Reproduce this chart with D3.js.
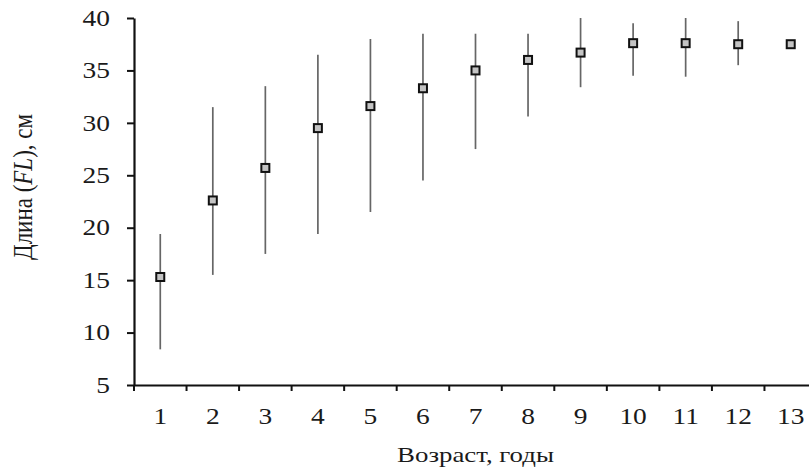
<!DOCTYPE html>
<html>
<head>
<meta charset="utf-8">
<script src="https://cdn.jsdelivr.net/npm/d3@7"></script>
<style>
  body { margin: 0; background: #fff; }
  svg { display: block; font-family: "Liberation Serif", "Times New Roman", serif; }
</style>
</head>
<body>
<div id="chart"></div>
<script>
// age classes, mean fork length, min/max range
const ages = [1, 2, 3, 4, 5, 6, 7, 8, 9, 10, 11, 12, 13];
const meanFL = [15.3, 22.6, 25.7, 29.5, 31.6, 33.3, 35.0, 36.0, 36.7, 37.6, 37.6, 37.5, 37.5];
const minFL = [8.4, 15.5, 17.5, 19.4, 21.5, 24.5, 27.5, 30.6, 33.4, 34.5, 34.4, 35.5, null];
const maxFL = [19.4, 31.5, 33.5, 36.5, 38.0, 38.5, 38.5, 38.5, 40.0, 39.5, 40.0, 39.7, null];
const yTicks = [5, 10, 15, 20, 25, 30, 35, 40];

const width = 809, height = 471;
const margin = {top: 18, right: -8, bottom: 86, left: 134};
const stretch = 1.22; // the source picture is a bit wider than tall

const rows = ages.map((a, i) => ({age: a, mean: meanFL[i], lo: minFL[i], hi: maxFL[i]}));

const svg = d3.select("#chart").append("svg")
  .attr("width", width)
  .attr("height", height);

const x = d3.scaleBand()
  .domain(ages)
  .range([margin.left, width - margin.right])
  .padding(0);

const y = d3.scaleLinear()
  .domain([5, 40])
  .range([height - margin.bottom, margin.top]);

// error bars
svg.append("g")
  .attr("stroke", "#666")
  .attr("stroke-width", 1.7)
  .selectAll("line")
  .data(rows.filter(d => d.lo != null))
  .join("line")
    .attr("x1", d => x(d.age) + x.bandwidth() / 2)
    .attr("x2", d => x(d.age) + x.bandwidth() / 2)
    .attr("y1", d => y(d.lo))
    .attr("y2", d => y(d.hi));

// mean markers
const s = 8;
svg.append("g")
  .selectAll("rect")
  .data(rows)
  .join("rect")
    .attr("x", d => x(d.age) + x.bandwidth() / 2 - s / 2)
    .attr("y", d => y(d.mean) - s / 2)
    .attr("width", s)
    .attr("height", s)
    .attr("fill", "#c4c4c4")
    .attr("stroke", "#111")
    .attr("stroke-width", 2);

// x axis: labels centred, ticks on band boundaries
const xAxis = svg.append("g")
  .attr("transform", `translate(0,${y(5)})`)
  .call(d3.axisBottom(x).tickSize(0).tickPadding(23));
xAxis.select(".domain").attr("stroke", "#111").attr("stroke-width", 2.2);
xAxis.selectAll("text")
  .attr("font-size", 22.5)
  .attr("fill", "#1a1a1a")
  .attr("transform", `scale(${stretch},1)`)
  .style("font-family", "Liberation Serif");

xAxis.selectAll(".bound")
  .data(ages)
  .join("line")
    .attr("class", "bound")
    .attr("x1", d => x(d)).attr("x2", d => x(d))
    .attr("y1", 0).attr("y2", 6)
    .attr("stroke", "#111").attr("stroke-width", 2);

// y axis
const yAxis = svg.append("g")
  .attr("transform", `translate(${margin.left},0)`)
  .call(d3.axisLeft(y).tickValues(yTicks).tickSize(7).tickSizeOuter(0));
yAxis.select(".domain").attr("stroke", "#111").attr("stroke-width", 2.2);
yAxis.selectAll(".tick line").attr("stroke", "#111").attr("stroke-width", 2);
yAxis.selectAll("text")
  .attr("x", -24 / stretch)
  .attr("font-size", 22.5)
  .attr("fill", "#1a1a1a")
  .attr("transform", `scale(${stretch},1)`)
  .style("font-family", "Liberation Serif");

// titles
svg.append("text")
  .attr("transform", `translate(${(margin.left + width - margin.right) / 2},462) scale(${stretch},1)`)
  .attr("text-anchor", "middle")
  .attr("font-size", 22)
  .attr("fill", "#1a1a1a")
  .text("Возраст, годы");

const yt = svg.append("text")
  .attr("transform", `translate(32,187) rotate(-90) scale(1,${stretch})`)
  .attr("text-anchor", "middle")
  .attr("font-size", 23)
  .attr("fill", "#1a1a1a");
yt.append("tspan").text("Длина (");
yt.append("tspan").attr("font-style", "italic").text("FL");
yt.append("tspan").text("), см");
</script>
</body>
</html>
